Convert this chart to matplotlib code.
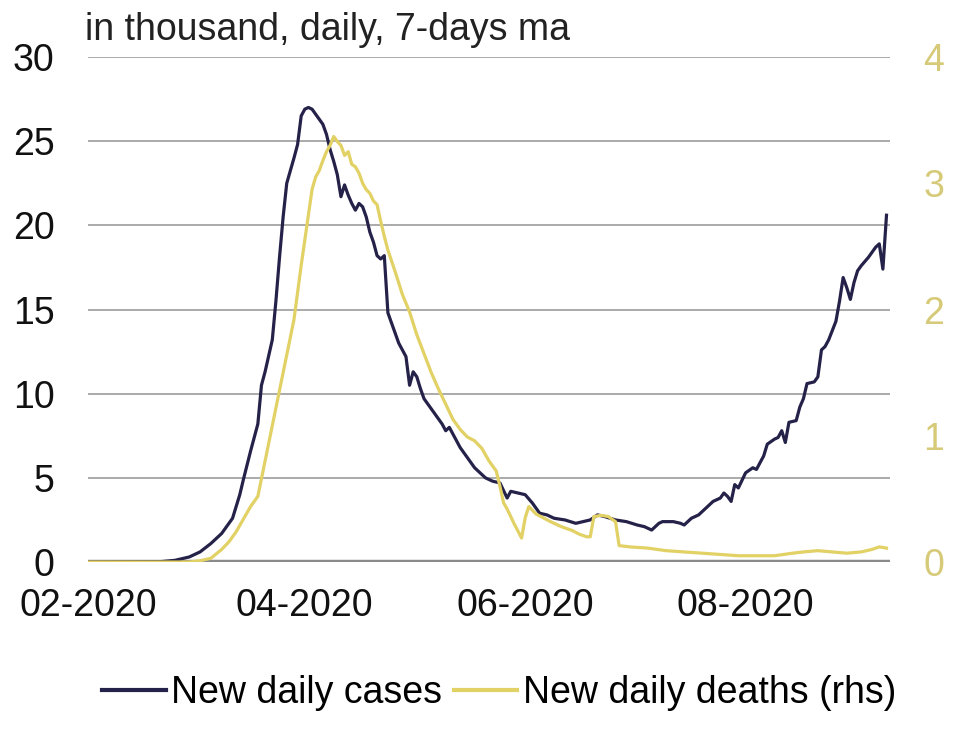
import numpy as np
import matplotlib
matplotlib.use("Agg")
import matplotlib.pyplot as plt
import matplotlib.dates as mdates
from matplotlib.lines import Line2D

plt.rcParams['font.family'] = ['Liberation Sans', 'DejaVu Sans']

# days since 1 Feb 2020
start = np.datetime64('2020-02-01')

case_days = [0, 20, 24, 28, 31, 34, 37, 39, 40, 42, 43, 45, 47, 48, 49, 51, 52, 53, 54, 55,
             57, 58, 59, 60, 61, 62, 63, 65, 66, 67, 68, 69, 70, 71, 72, 73, 74, 75, 76, 77,
             78, 79, 80, 81, 82, 83, 84, 86, 87, 88, 89, 90, 91, 92, 93, 95, 96, 98, 99, 100,
             101, 103, 105, 107, 109, 110, 112, 114, 116, 117, 119, 121, 123, 125, 127, 129, 132, 135, 137, 139,
             141, 143, 146, 149, 152, 154, 156, 158, 159, 162, 164, 165, 167, 169, 171, 173, 175, 176, 177, 178,
             179, 180, 182, 184, 185, 187, 188, 190, 191, 192, 193, 194, 196, 197, 198, 199, 201, 202, 203, 204,
             205, 207, 208, 209, 210, 211, 212, 213, 214, 216, 218, 219, 220, 221]
cases = [0, 0.02, 0.1, 0.3, 0.6, 1.1, 1.7, 2.3, 2.6, 4.0, 4.9, 6.6, 8.2, 10.5, 11.3, 13.2, 15.5, 18.1, 20.5, 22.5,
         24.0, 24.8, 26.5, 26.9, 27.0, 26.9, 26.6, 26.0, 25.4, 24.5, 23.8, 23.0, 21.7, 22.4, 21.8, 21.3, 20.9, 21.3, 21.1, 20.5,
         19.6, 19.0, 18.2, 18.0, 18.2, 14.8, 14.2, 13.0, 12.6, 12.2, 10.5, 11.3, 11.0, 10.3, 9.7, 9.1, 8.8, 8.2, 7.8, 8.0,
         7.6, 6.8, 6.2, 5.6, 5.2, 5.0, 4.8, 4.7, 3.8, 4.2, 4.1, 4.0, 3.5, 2.9, 2.8, 2.6, 2.5, 2.3, 2.4, 2.5,
         2.8, 2.7, 2.5, 2.4, 2.2, 2.1, 1.9, 2.3, 2.4, 2.4, 2.3, 2.2, 2.6, 2.8, 3.2, 3.6, 3.8, 4.1, 3.9, 3.6,
         4.6, 4.4, 5.3, 5.6, 5.5, 6.3, 7.0, 7.3, 7.4, 7.8, 7.1, 8.3, 8.4, 9.2, 9.7, 10.6, 10.7, 11.0, 12.6, 12.8,
         13.2, 14.3, 15.5, 16.9, 16.3, 15.6, 16.6, 17.3, 17.6, 18.1, 18.7, 18.9, 17.4, 20.6]

death_days = [0, 28, 31, 34, 37, 39, 41, 43, 45, 47, 48, 49, 51, 53, 55, 57, 59, 60, 62, 63,
              64, 65, 66, 67, 68, 69, 70, 71, 72, 73, 74, 75, 76, 77, 78, 79, 80, 81, 82, 83,
              85, 87, 89, 91, 93, 95, 97, 99, 101, 103, 105, 107, 109, 111, 113, 114, 115, 116, 118, 120,
              121, 122, 124, 126, 128, 131, 134, 136, 138, 139, 140, 142, 144, 146, 147, 150, 155, 160, 165, 170,
              175, 180, 185, 190, 195, 198, 202, 206, 210, 214, 217, 219, 221]
deaths = [0, 0.0, 0.01, 0.03, 0.1, 0.16, 0.24, 0.34, 0.44, 0.52, 0.66, 0.8, 1.08, 1.36, 1.64, 1.92, 2.35, 2.55, 2.95, 3.05,
          3.1, 3.18, 3.25, 3.3, 3.37, 3.33, 3.3, 3.22, 3.25, 3.15, 3.13, 3.08, 3.0, 2.95, 2.92, 2.86, 2.83, 2.7, 2.58, 2.47,
          2.3, 2.12, 1.98, 1.8, 1.65, 1.5, 1.37, 1.25, 1.13, 1.05, 0.99, 0.96, 0.9, 0.8, 0.72, 0.6, 0.47, 0.42, 0.3, 0.19,
          0.35, 0.44, 0.38, 0.35, 0.32, 0.28, 0.25, 0.22, 0.2, 0.2, 0.36, 0.37, 0.36, 0.32, 0.13, 0.12, 0.11, 0.09, 0.08, 0.07,
          0.06, 0.05, 0.05, 0.05, 0.07, 0.08, 0.09, 0.08, 0.07, 0.08, 0.1, 0.12, 0.11]

case_dates = start + np.array(case_days).astype('timedelta64[D]')
death_dates = start + np.array(death_days).astype('timedelta64[D]')

navy = '#25224a'
gold = '#e2d164'

fig = plt.figure(figsize=(9.6, 7.37), dpi=100)
ax = fig.add_axes([0.0917, 0.2374, 0.8355, 0.6853])
ax2 = ax.twinx()

ax.plot(case_dates, cases, color=navy, lw=2.3, zorder=3)
ax2.plot(death_dates, deaths, color=gold, lw=2.3, zorder=3)

ax.set_ylim(0, 30)
ax.set_yticks(range(0, 31, 5))
ax2.set_ylim(0, 4)
ax2.set_yticks(range(0, 5))
ax.set_xlim(np.datetime64('2020-02-01'), np.datetime64('2020-09-10'))

ax.xaxis.set_major_locator(mdates.MonthLocator(bymonth=[2, 4, 6, 8]))
ax.xaxis.set_major_formatter(mdates.DateFormatter('%m-%Y'))

for a in (ax, ax2):
    for s in a.spines.values():
        s.set_visible(False)

ax.grid(axis='y', color='#9c9c9c', lw=1.2)
ax.axhline(0, color='#8a8a8a', lw=3.2, zorder=2)
ax.set_axisbelow(True)

ax.tick_params(axis='y', length=0, pad=24, labelsize=27, labelcolor='#111111')
ax.tick_params(axis='x', length=0, pad=19, labelsize=27, labelcolor='#111111')
ax2.tick_params(axis='y', length=0, pad=24, labelsize=27, labelcolor='#d6ca78')

fig.text(0.0885, 0.959, 'in thousand, daily, 7-days ma', fontsize=27, color='#222222', va='center')

handles = [Line2D([], [], color=navy, lw=3), Line2D([], [], color=gold, lw=3)]
fig.legend(handles, ['New daily cases', 'New daily deaths (rhs)'], loc='center',
           bbox_to_anchor=(0.52, 0.06), ncol=2, frameon=False, fontsize=27,
           handlelength=1.7, handletextpad=0.15, columnspacing=0.3)

fig.savefig('out.png', dpi=100)
